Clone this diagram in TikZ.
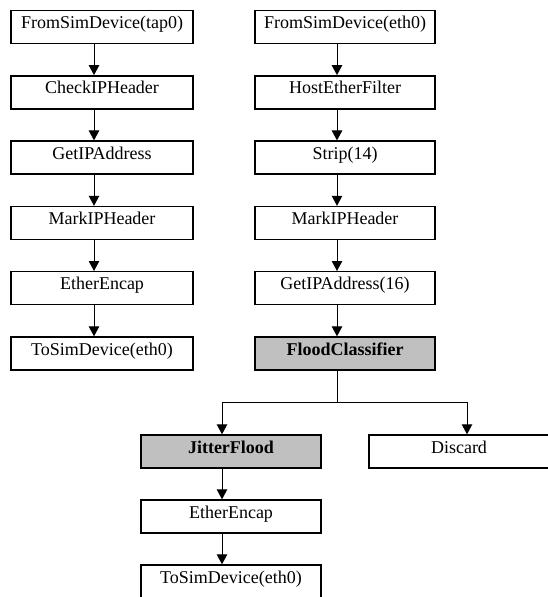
\documentclass[tikz,border=0pt]{standalone}
\usepackage{fontspec}
\setmainfont{Liberation Serif}
\usetikzlibrary{arrows.meta}
\definecolor{boxgray}{RGB}{192,192,192}
\tikzset{
  blk/.style={draw=black, line width=1.4pt, rectangle, minimum width=180pt, minimum height=33pt, inner sep=0pt, text height=13pt, text depth=10pt, font=\fontsize{18pt}{20pt}\selectfont, fill=white},
  hl/.style={blk, fill=boxgray, font=\fontsize{18pt}{20pt}\selectfont\bfseries},
  arr/.style={line width=1pt, -{Triangle[length=10pt,width=10.5pt]}},
  ln/.style={line width=1pt}
}
\begin{document}
\begin{tikzpicture}[x=1pt,y=-1pt]
\useasboundingbox (0,0) rectangle (547,597);
% left column
\node[blk, minimum width=182pt] (l1) at (102,27) {FromSimDevice(tap0)};
\node[blk, minimum width=182pt] (l2) at (102,92.3) {CheckIPHeader};
\node[blk, minimum width=182pt] (l3) at (102,157.6) {GetIPAddress};
\node[blk, minimum width=182pt] (l4) at (102,223) {MarkIPHeader};
\node[blk, minimum width=182pt] (l5) at (102,288.2) {EtherEncap};
\node[blk, minimum width=182pt] (l6) at (102,353.5) {ToSimDevice(eth0)};
% right column
\node[blk] (r1) at (345,27) {FromSimDevice(eth0)};
\node[blk] (r2) at (345,92.3) {HostEtherFilter};
\node[blk] (r3) at (345,157.6) {Strip(14)};
\node[blk] (r4) at (345,223) {MarkIPHeader};
\node[blk] (r5) at (345,288.2) {GetIPAddress(16)};
\node[hl] (fc) at (345,353.5) {FloodClassifier};
% lower part
\node[hl] (jf) at (231,451.5) {JitterFlood};
\node[blk] (dc) at (459,451.5) {Discard};
\node[blk] (ee) at (231,516.5) {EtherEncap};
\node[blk] (ts) at (231,581.5) {ToSimDevice(eth0)};
% arrows
\foreach \a/\b in {l1/l2,l2/l3,l3/l4,l4/l5,l5/l6}
  \draw[arr] ([xshift=-8pt]\a.south) -- ([xshift=-8pt]\b.north);
\foreach \a/\b in {r1/r2,r2/r3,r3/r4,r4/r5,r5/fc}
  \draw[arr] ([xshift=-8pt]\a.south) -- ([xshift=-8pt]\b.north);
\coordinate (br) at (337,402);
\draw[ln] ([xshift=-8pt]fc.south) -- (br);
\draw[arr] (br) -| ([xshift=-9pt]jf.north);
\draw[arr] (br) -| ([xshift=8pt]dc.north);
\draw[arr] ([xshift=-9pt]jf.south) -- ([xshift=-9pt]ee.north);
\draw[arr] ([xshift=-9pt]ee.south) -- ([xshift=-9pt]ts.north);
\end{tikzpicture}
\end{document}
